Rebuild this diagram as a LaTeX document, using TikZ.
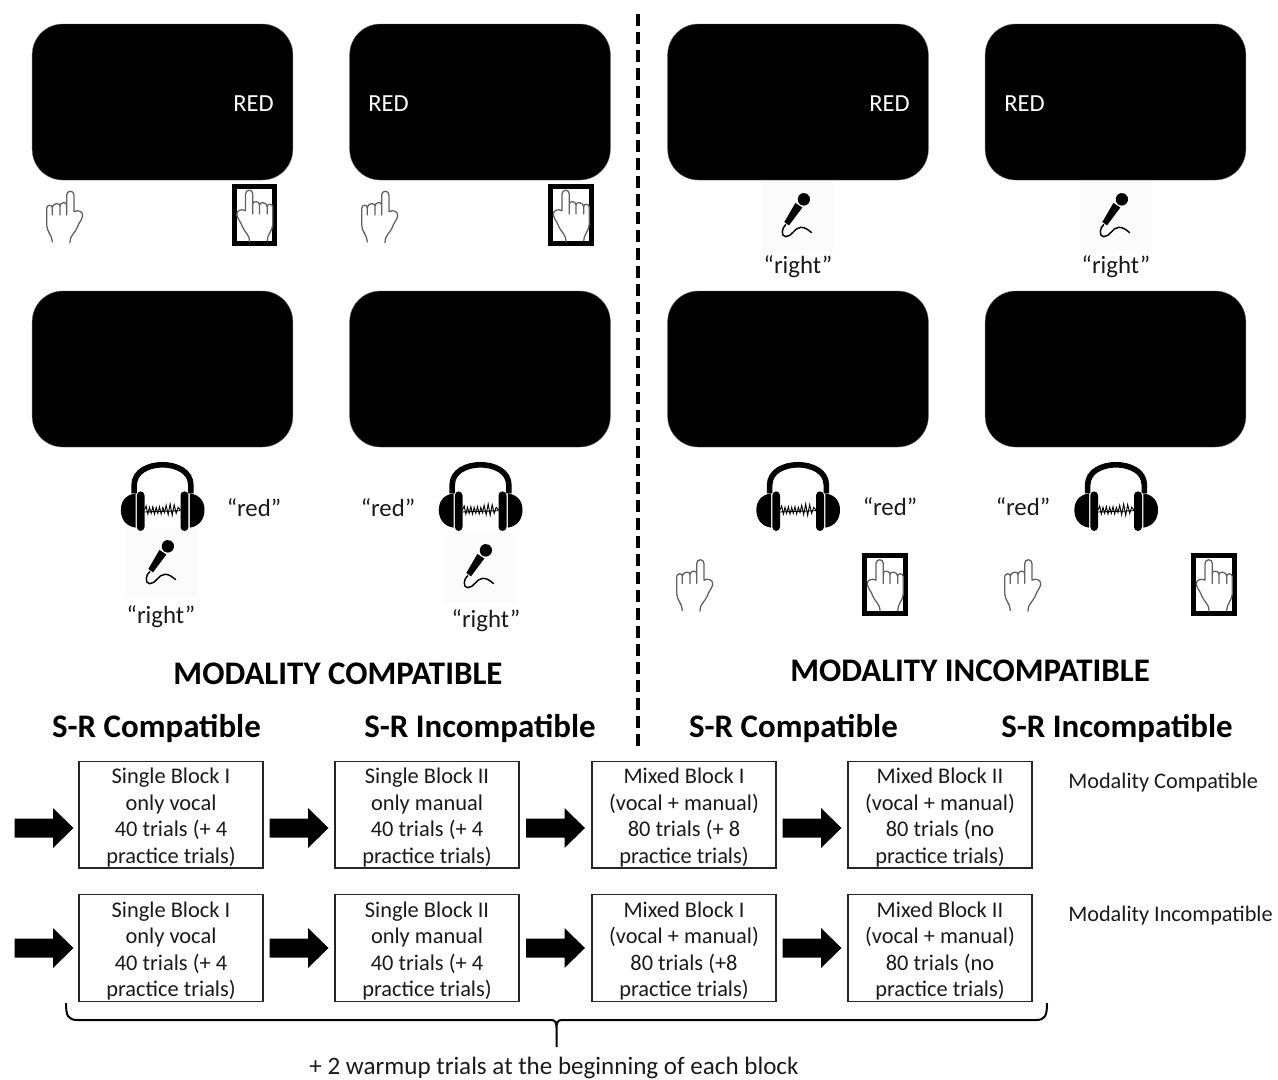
\documentclass[tikz,border=0pt]{standalone}
\usepackage{fontspec}
\setmainfont{Carlito}
\usetikzlibrary{calc}
\definecolor{ink}{HTML}{1A1A1A}
\newcommand{\blocktext}[1]{\parbox{138pt}{\vspace*{4.5pt}\centering #1}}
\tikzset{
  x=.75pt,y=-.75pt,
  screen/.style={fill=black,draw=black!60,line width=.3pt,rounded corners=23pt,minimum width=195.5pt,minimum height=117pt,inner sep=0pt},
  redlabel/.style={text=white,font=\fontsize{18.4}{22}\selectfont},
  saylabel/.style={text=ink,font=\fontsize{18.6}{22}\selectfont},
  title/.style={text=black,font=\fontsize{24.7}{30}\selectfont\bfseries},
  blockbox/.style={draw=black!85,line width=1pt,fill=white,text=ink,align=center,inner sep=0pt,minimum width=138pt,minimum height=80pt,font=\fontsize{16.8}{19.9}\selectfont},
  sidelabel/.style={anchor=west,text=ink,inner sep=0pt,font=\fontsize{16.7}{20}\selectfont},
  micbg/.style={fill=black!1.5,draw=none,minimum width=54pt,minimum height=52pt,inner sep=0pt},
  pressbox/.style={draw=black,line width=3.6pt,fill=white,minimum width=30.5pt,minimum height=43pt,inner sep=0pt},
  blockarrow/.pic={
    \fill[black] (-29.5,-9.5) -- (9,-9.5) -- (9,-20) -- (29.5,0) -- (9,20) -- (9,9.5) -- (-29.5,9.5) -- cycle;
  },
  handicon/.pic={
    \begin{scope}[scale=.3333,shift={(-135,-142.5)}]
      \draw[black!62,line width=.95pt,line join=round,line cap=round,fill=white]
        (97,216) .. controls (97,195) and (80,185) .. (80,165)
        -- (80,115) .. controls (80,103) and (97,103) .. (97,113)
        (97,135) -- (97,113) .. controls (97,100) and (120,96) .. (120,108)
        (120,135) -- (120,108) .. controls (120,96) and (140,94) .. (140,105)
        (140,135) -- (140,75) .. controls (140,60) and (162,60) .. (162,75)
        -- (162,125) .. controls (175,118) and (190,125) .. (188,138)
        .. controls (186,150) and (175,160) .. (172,172)
        .. controls (165,190) and (150,195) .. (150,218);
    \end{scope}
  },
  micicon/.pic={
    \begin{scope}[scale=.3333,shift={(-187,-340)}]
      \fill[black] (182,296) -- (202,312) -- (160,368) -- (146,358) -- cycle;
      \fill[white] (176,298) -- (206,318) -- (208,312) -- (180,290) -- cycle;
      \fill[black] (190,278) .. controls (205,262) and (228,275) .. (222,296)
        .. controls (218,306) and (208,312) .. (196,307)
        .. controls (186,302) and (183,288) .. (190,278) -- cycle;
      \draw[black,line width=1.1pt,line cap=round] (150,366) .. controls (138,375) and (135,402) .. (150,402)
        .. controls (170,402) and (175,375) .. (195,374) .. controls (208,373) and (218,382) .. (228,390);
    \end{scope}
  },
  phonesicon/.pic={
    \begin{scope}[scale=.3333,shift={(-187,-180)}]
      \draw[black,line width=4.2pt] (102,130) -- (102,105) .. controls (102,24) and (272,24) .. (272,105) -- (272,130);
      \fill[black,rounded corners=3pt] (110,124) rectangle (133,243);
      \fill[black,rounded corners=3pt] (241,124) rectangle (265,243);
      \fill[black] (106,130) .. controls (75,135) and (62,155) .. (62,180) .. controls (62,205) and (75,228) .. (106,233) -- cycle;
      \fill[black] (269,130) .. controls (300,135) and (313,155) .. (313,180) .. controls (313,205) and (300,228) .. (269,233) -- cycle;
      \draw[black,line width=.7pt] (133,180) -- (138,168) -- (143,192) -- (148,172) -- (153,190) -- (158,170) -- (163,192) -- (168,172) -- (173,190) -- (178,170) -- (183,192) -- (188,172) -- (193,188) -- (198,166) -- (204,194) -- (210,162) -- (216,196) -- (222,164) -- (228,190) -- (234,172) -- (241,180);
      \draw[black,line width=.7pt] (133,186) -- (241,182);
    \end{scope}
  }
}
\begin{document}
\begin{tikzpicture}
\useasboundingbox (0,0) rectangle (1278,1079);
% screens
\node[screen] (s11) at (162.5,102) {};
\node[screen] (s12) at (480,102) {};
\node[screen] (s13) at (798,102) {};
\node[screen] (s14) at (1115.5,102) {};
\node[screen] (s21) at (162.5,369) {};
\node[screen] (s22) at (480,369) {};
\node[screen] (s23) at (798,369) {};
\node[screen] (s24) at (1115.5,369) {};
\node[redlabel] (r1) at (253.5,104) {RED};
\node[redlabel] (r2) at (388.5,104) {RED};
\node[redlabel] (r3) at (889.5,104) {RED};
\node[redlabel] (r4) at (1024.5,104) {RED};
% hands, top left
\pic at (65,217.5) {handicon};
\node[pressbox] (p1) at (254.5,215) {};
\pic[xscale=-1] at (254.5,216.5) {handicon};
\pic at (380,217.5) {handicon};
\node[pressbox] (p2) at (571,215) {};
\pic[xscale=-1] at (571,216.5) {handicon};
% mics, top right
\node[micbg] (m1) at (798,216) {};
\pic at (798,216) {micicon};
\node[micbg] (m2) at (1116,216) {};
\pic at (1116,216) {micicon};
\node[saylabel] (t1) at (798,267) {“right”};
\node[saylabel] (t2) at (1116,267) {“right”};
% lower left mic backgrounds
\node[micbg] (m3) at (162,563) {};
\pic at (162,563) {micicon};
\node[micbg] (m4) at (480,567) {};
\pic at (480,567) {micicon};
% headphones
\pic at (162.5,510) {phonesicon};
\pic at (480.5,510) {phonesicon};
\pic at (798,510) {phonesicon};
\pic at (1116,510) {phonesicon};
\node[saylabel] (q1) at (254,507.5) {“red”};
\node[saylabel] (q2) at (388,507.5) {“red”};
\node[saylabel] (q3) at (890,506.5) {“red”};
\node[saylabel] (q4) at (1023,506.5) {“red”};
\node[saylabel] (t3) at (161,617) {“right”};
\node[saylabel] (t4) at (486,621) {“right”};
% hands, lower right
\pic at (695,586) {handicon};
\node[pressbox] (p3) at (885,584.5) {};
\pic[xscale=-1] at (885,586) {handicon};
\pic at (1023,586) {handicon};
\node[pressbox] (p4) at (1214,584.5) {};
\pic[xscale=-1] at (1214,586) {handicon};
% divider
\coordinate (dtop) at (638,14);
\coordinate (dbot) at (638,746);
\draw[black,line width=3pt,dash pattern=on 9pt off 4.5pt] (dtop) -- (dbot);
% headings
\node[title] (h1) at (338,674) {MODALITY COMPATIBLE};
\node[title] (h2) at (970,671) {MODALITY INCOMPATIBLE};
\node[title] (c1) at (156.5,728) {S-R Compatible};
\node[title] (c2) at (480,728) {S-R Incompatible};
\node[title] (c3) at (793.5,728) {S-R Compatible};
\node[title] (c4) at (1117,728) {S-R Incompatible};
% blocks
\node[blockbox] (b11) at (171,814.5) {\blocktext{Single Block I\\only vocal\\40 trials (+ 4\\practice trials)}};
\node[blockbox] (b12) at (427,814.5) {\blocktext{Single Block II\\only manual\\40 trials (+ 4\\practice trials)}};
\node[blockbox] (b13) at (684,814.5) {\blocktext{Mixed Block I\\(vocal + manual)\\80 trials (+ 8\\practice trials)}};
\node[blockbox] (b14) at (940,814.5) {\blocktext{Mixed Block II\\(vocal + manual)\\80 trials (no\\practice trials)}};
\node[blockbox] (b21) at (171,948) {\blocktext{Single Block I\\only vocal\\40 trials (+ 4\\practice trials)}};
\node[blockbox] (b22) at (427,948) {\blocktext{Single Block II\\only manual\\40 trials (+ 4\\practice trials)}};
\node[blockbox] (b23) at (684,948) {\blocktext{Mixed Block I\\(vocal + manual)\\80 trials (+8\\practice trials)}};
\node[blockbox] (b24) at (940,948) {\blocktext{Mixed Block II\\(vocal + manual)\\80 trials (no\\practice trials)}};
\node[sidelabel] (l1) at (1068,783) {Modality Compatible};
\node[sidelabel] (l2) at (1068,916) {Modality Incompatible};
% arrows
\pic at (44,828) {blockarrow};
\pic at ($(b11.east)!.5!(b12.west)+(0,13.5)$) {blockarrow};
\pic at ($(b12.east)!.5!(b13.west)+(0,13.5)$) {blockarrow};
\pic at ($(b13.east)!.5!(b14.west)+(0,13.5)$) {blockarrow};
\pic at (44,948) {blockarrow};
\pic at ($(b21.east)!.5!(b22.west)$) {blockarrow};
\pic at ($(b22.east)!.5!(b23.west)$) {blockarrow};
\pic at ($(b23.east)!.5!(b24.west)$) {blockarrow};
% brace
\draw[black,line width=1.5pt,line join=round]
  (66,1003) .. controls (66,1016) and (68,1020) .. (78,1020)
  -- (551,1020) .. controls (555,1020) and (556.5,1022) .. (556.5,1028) -- (556.5,1047)
  (556.5,1028) .. controls (556.5,1022) and (558,1020) .. (562,1020)
  -- (1036,1020) .. controls (1045,1020) and (1047,1016) .. (1047,1003);
\node[text=ink,font=\fontsize{18.8}{22}\selectfont] (note) at (554,1067.5) {+ 2 warmup trials at the beginning of each block};
\end{tikzpicture}
\end{document}
